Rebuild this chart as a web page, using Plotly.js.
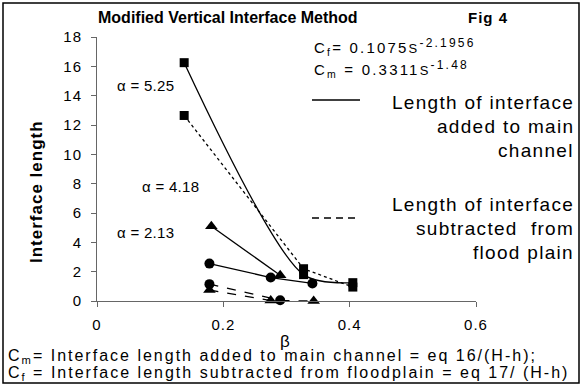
<!DOCTYPE html>
<html><head><meta charset="utf-8">
<script src="https://cdn.plot.ly/plotly-3.0.1.min.js"></script>
<style>html,body{margin:0;padding:0;background:#fff}#c{width:581px;height:386px}
#c .xtick text, #c .ytick text{letter-spacing:1px}</style>
</head><body><div id="c"></div>
<script>
// beta values and interface lengths
const betaSqM = [0.138, 0.327, 0.405];
const lenSqM  = [16.25, 1.8, 1.25];   // alpha = 5.25, added to main channel
const betaSqF = [0.138, 0.327, 0.405];
const lenSqF  = [12.65, 2.2, 0.95];   // alpha = 5.25, subtracted from flood plain
const betaTrM = [0.181, 0.29];
const lenTrM  = [5.1, 1.75];          // alpha = 4.18
const betaTrF = [0.178, 0.275, 0.343];
const lenTrF  = [0.75, 0.03, 0.0];
const betaCiM = [0.178, 0.275, 0.341];
const lenCiM  = [2.55, 1.6, 1.2];     // alpha = 2.13
const betaCiF = [0.178, 0.29];
const lenCiF  = [1.15, 0.05];
const xTicks = [0, 0.2, 0.4, 0.6];
const yTicks = [0, 2, 4, 6, 8, 10, 12, 14, 16, 18];

const F = 'Arial, "Liberation Sans", sans-serif';
function tr(x, y, sym, size, dash, shape) {
  return {x: x, y: y, type: 'scatter', mode: 'lines+markers',
    line: {color: '#000', width: 1.3, dash: dash, shape: shape || 'linear', smoothing: 0.8},
    marker: {symbol: sym, size: size, color: '#000'}, showlegend: false, cliponaxis: false};
}
const data = [
  tr(betaSqF, lenSqF, 'square', 9, 'dot'),
  tr(betaCiF, lenCiF, 'circle', 10, 'dash'),
  tr(betaTrF, lenTrF, 'triangle-up', 11, 'dash'),
  tr(betaSqM, lenSqM, 'square', 9, 'solid', 'spline'),
  tr(betaCiM, lenCiM, 'circle', 10, 'solid'),
  tr(betaTrM, lenTrM, 'triangle-up', 11, 'solid')
];
const W = 379, H = 264, L = 97, T = 37;
const px = X => (X - L) / W, py = Y => (T + H - Y) / H;
const sp = (t, s) => '<span style="letter-spacing:' + s + 'px">' + t + '</span>';
function ann(text, X, Y, size, opts) {
  return Object.assign({text: text, x: px(X), y: py(Y), xref: 'paper', yref: 'paper',
    showarrow: false, font: {family: F, size: size, color: '#000'}, xanchor: 'center', yanchor: 'middle'}, opts || {});
}
const layout = {
  width: 581, height: 386,
  margin: {l: L, r: 581 - L - W, t: T, b: 386 - T - H},
  paper_bgcolor: '#fff', plot_bgcolor: '#fff',
  font: {family: F, size: 15, color: '#000'},
  xaxis: {range: [0, 0.6], tickvals: xTicks, ticktext: xTicks.map(String), showgrid: false, zeroline: false,
    showline: true, linecolor: '#666', linewidth: 1, ticks: 'outside', ticklen: 5, tickcolor: '#666',
    ticklabelstandoff: 5, tickfont: {family: F, size: 15}},
  yaxis: {range: [0, 18], tickvals: yTicks, showgrid: false, zeroline: false,
    showline: true, linecolor: '#666', linewidth: 1, ticks: 'outside', ticklen: 5, tickcolor: '#666',
    ticklabelstandoff: 6, tickfont: {family: F, size: 15}},
  shapes: [
    {type: 'rect', xref: 'paper', yref: 'paper', x0: px(3), x1: px(579), y0: py(383), y1: py(3),
      line: {color: '#000', width: 1.5}},
    {type: 'line', xref: 'paper', yref: 'paper', x0: px(312), x1: px(360), y0: py(100), y1: py(100),
      line: {color: '#000', width: 1.5}},
    {type: 'line', xref: 'paper', yref: 'paper', x0: px(312), x1: px(360), y0: py(218), y1: py(218),
      line: {color: '#000', width: 1.5, dash: '7px,5px'}}
  ],
  annotations: [
    ann('<b>Modified Vertical Interface Method</b>', 228, 18, 16),
    ann(sp('<b>Fig 4</b>', 1), 488, 18, 15),
    ann(sp('<b>Interface length</b>', 1), 36, 192, 17, {textangle: -90}),
    ann('β', 285, 341, 17),
    ann(sp('C<sub>f</sub>= 0.1075<span style="font-size:13px">S</span><sup><span style="font-size:12px">-2.1956</span></sup>', 2.2), 312, 47, 15, {xanchor: 'left'}),
    ann(sp('C<sub>m</sub> = 0.3311<span style="font-size:13px">S</span><sup><span style="font-size:12px">-1.48</span></sup>', 2.2), 312, 69, 15, {xanchor: 'left'}),
    ann(sp('Length of interface', 1.3), 576, 102, 19, {xanchor: 'right'}),
    ann(sp('added to main', 1.3), 576, 126, 19, {xanchor: 'right'}),
    ann(sp('channel', 1.3), 576, 150, 19, {xanchor: 'right'}),
    ann(sp('Length of interface', 1.3), 576, 204, 19, {xanchor: 'right'}),
    ann(sp('subtracted  from', 1.3), 576, 228, 19, {xanchor: 'right'}),
    ann(sp('flood plain', 1.3), 576, 252, 19, {xanchor: 'right'}),
    ann(sp('α = 5.25', 0.3), 145, 86, 15),
    ann(sp('α = 4.18', 0.3), 170, 186, 15),
    ann(sp('α = 2.13', 0.3), 145, 232, 15),
    ann(sp('C<sub>m</sub>= Interface length added to main channel = eq 16/(H-h);', 2), 6, 356, 16, {xanchor: 'left'}),
    ann(sp('C<sub>f</sub> = Interface length subtracted from floodplain = eq 17/ (H-h)', 2), 6, 374, 16, {xanchor: 'left'})
  ]
};
Plotly.newPlot('c', data, layout, {displayModeBar: false, staticPlot: true});
</script></body></html>
